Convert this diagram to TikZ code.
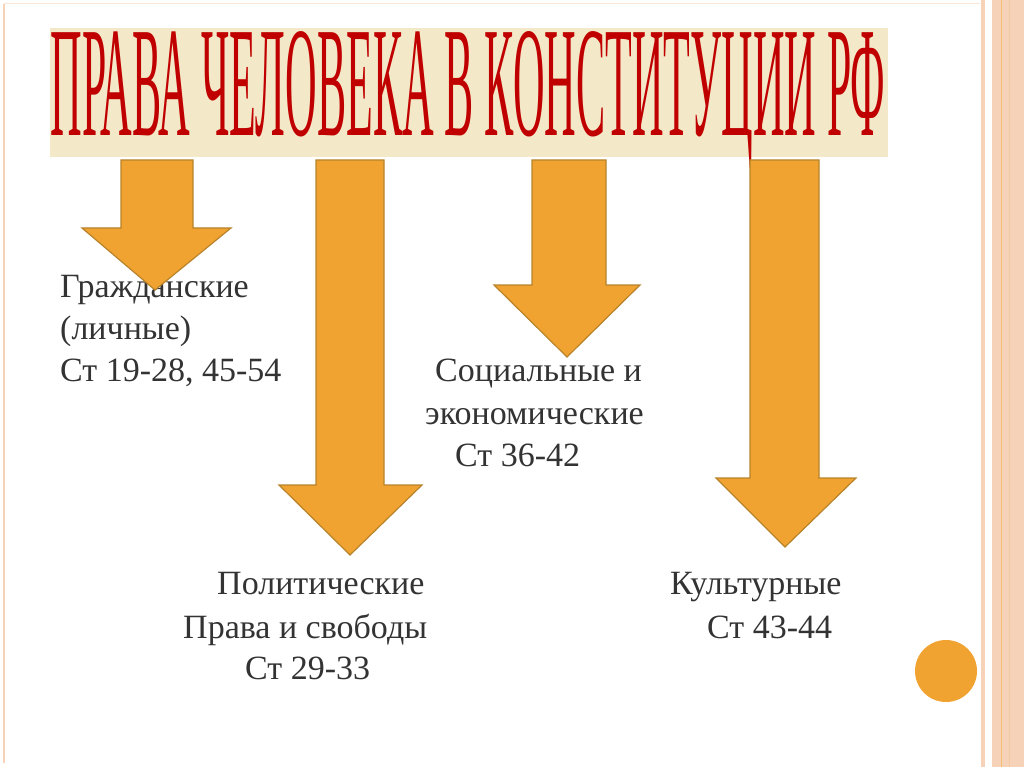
\documentclass[tikz,border=0pt]{standalone}
\usepackage{fontspec}
\setmainfont{Liberation Serif}
\usepackage{graphicx}
\definecolor{arr}{HTML}{F0A330}
\definecolor{arrb}{HTML}{B8832A}
\definecolor{band}{HTML}{F3E8C8}
\definecolor{ttl}{HTML}{C00000}
\definecolor{peach}{HTML}{F6D3B8}
\definecolor{txt}{HTML}{333333}
\tikzset{lbl/.style={anchor=base west,text=txt,font=\fontsize{34}{34}\selectfont,inner sep=0pt},
 arrowbox/.style={fill=arr,draw=arrb,line width=1.2pt}}
\begin{document}
\begin{tikzpicture}[x=1pt,y=-1pt]
\useasboundingbox (0,0) rectangle (1024,767);
\fill[white] (0,0) rectangle (1024,767);
% frame
\draw[peach,line width=1.5pt] (4,4) -- (4,763);
\draw[peach!60,line width=1pt] (4,4) -- (980,4);
\fill[peach] (981,0) rectangle (985,767);
\fill[peach] (992,0) rectangle (1024,767);
\draw[arr!70,line width=1pt] (1001,0) -- (1001,767);
\draw[peach!80!arr,line width=0.6pt] (1009,0) -- (1009,767);
% title
\node[fill=band,minimum width=838,minimum height=129,anchor=north west,inner sep=0pt] (band) at (50,28) {};
\node[text=ttl,inner sep=0pt,anchor=base] (title) at (468,136) {\resizebox{835pt}{104pt}{\fontsize{40}{40}\selectfont ПРАВА ЧЕЛОВЕКА В КОНСТИТУЦИИ РФ}};
% labels
\node[lbl] (g1) at (60,297) {Гражданские};
\node[lbl] (g2) at (60,339) {(личные)};
\node[lbl] (g3) at (60,381) {Ст 19-28, 45-54};
\node[lbl] (s1) at (435,381) {Социальные и};
\node[lbl] (s2) at (425,424) {экономические};
\node[lbl] (s3) at (455,466) {Ст 36-42};
\node[lbl] (p1) at (217,594) {Политические};
\node[lbl] (p2) at (183,638) {Права и свободы};
\node[lbl] (p3) at (245,679) {Ст 29-33};
\node[lbl] (k1) at (670,594) {Культурные};
\node[lbl] (k2) at (707,638) {Ст 43-44};
% arrows
\draw[arrowbox] (121,160) -- (193,160) -- (193,228) -- (231,228) -- (155,290) -- (82,228) -- (121,228) -- cycle;
\draw[arrowbox] (316,160) -- (384,160) -- (384,485) -- (422,485) -- (350,555) -- (279,485) -- (316,485) -- cycle;
\draw[arrowbox] (532,160) -- (606,160) -- (606,285) -- (640,285) -- (567,357) -- (494,285) -- (532,285) -- cycle;
\draw[arrowbox] (750,160) -- (819,160) -- (819,478) -- (856,478) -- (785,547) -- (716,478) -- (750,478) -- cycle;
\node[circle,fill=arr,minimum size=62,inner sep=0pt] (dot) at (946,671) {};
\end{tikzpicture}
\end{document}
